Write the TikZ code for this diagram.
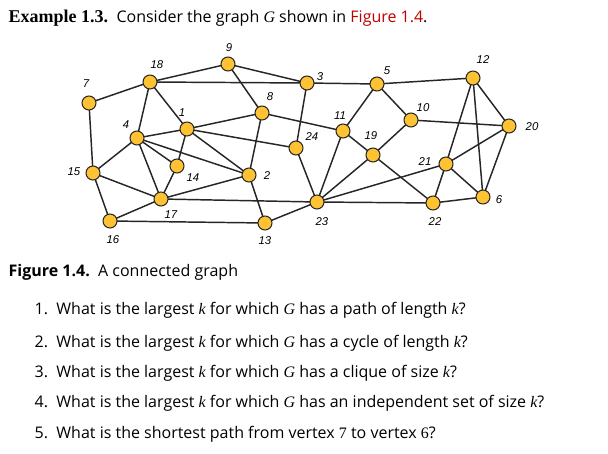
\documentclass[tikz,border=0pt]{standalone}
\usepackage{fontspec}
\setmainfont{Open Sans}
\newfontfamily\lab{Liberation Sans}
\newfontfamily\ser{Liberation Serif}
\begin{document}
\begin{tikzpicture}[x=0.75pt,y=-0.75pt,
  v/.style={circle,draw=black!85,line width=0.8pt,fill=orange!60!yellow!80,inner sep=0pt,minimum size=10.5pt},
  e/.style={line width=1.1pt,black!85},
  lb/.style={font=\lab\itshape\fontsize{8.5}{9}\selectfont},
  tx/.style={anchor=west,font=\fontsize{12}{14}\selectfont}]
\useasboundingbox (0,0) rectangle (608,454);
\foreach \n/\x/\y in {18/150/82,9/228/64,3/307/83,7/89/103,8/262/113,1/187/129,4/137/138,24/296/148,14/177/166,15/93/173,2/249/175,17/161/199,16/110/221,13/265/223,23/317/202,5/377/84,12/473/78,11/343/131,10/411/120,20/509/126,19/373/155,21/446/164,22/433/203,6/483/197}
  \coordinate (p\n) at (\x,\y);
\foreach \a/\b in {7/18,7/15,18/9,18/3,18/4,18/1,9/3,9/8,3/5,3/24,8/1,8/2,8/11,1/4,1/24,1/14,1/2,4/15,4/14,4/17,4/2,14/17,15/17,15/16,16/17,16/13,17/2,17/23,2/13,13/23,24/23,23/11,23/19,23/21,23/22,11/5,11/19,5/12,5/10,10/19,10/20,19/22,12/20,12/21,12/6,20/21,20/6,21/22,21/6,22/6}
  \draw[e] (p\a) -- (p\b);
\foreach \n in {18,9,3,7,8,1,4,24,14,15,2,17,16,13,23,5,12,11,10,20,19,21,22,6}
  \node[v] (n\n) at (p\n) {};
\foreach \n/\x/\y in {18/157/65,9/229/48,3/320/77,7/86/84,8/270/97,1/182/113,4/126/125,24/312/137,14/193/178,15/74/172,2/267/176,17/171/215,16/113/240,13/265/241,23/322/222,5/387/71,12/483/60,11/340/116,10/423/108,20/532/127,19/371/136,21/425/162,22/435/222,6/499/200}
  \node[lb] (l\n) at (\x,\y) {\n};
\node[tx] (title) at (4,18) {{\ser\bfseries\fontsize{13.5}{15}\selectfont Example 1.3.}\ \ Consider the graph {\ser\itshape G} shown in \textcolor{red!75!black}{Figure 1.4}.};
\node[tx] (cap) at (4,272) {{\bfseries Figure 1.4.}\ \ A connected graph};
\node[tx] (q1) at (30,310) {1.\ \ What is the largest {\ser\itshape k} for which {\ser\itshape G} has a path of length {\ser\itshape k}?};
\node[tx] (q2) at (30,343) {2.\ \ What is the largest {\ser\itshape k} for which {\ser\itshape G} has a cycle of length {\ser\itshape k}?};
\node[tx] (q3) at (30,373) {3.\ \ What is the largest {\ser\itshape k} for which {\ser\itshape G} has a clique of size {\ser\itshape k}?};
\node[tx] (q4) at (30,403) {4.\ \ What is the largest {\ser\itshape k} for which {\ser\itshape G} has an independent set of size {\ser\itshape k}?};
\node[tx] (q5) at (30,434) {5.\ \ What is the shortest path from vertex {\ser 7} to vertex {\ser 6}?};
\end{tikzpicture}
\end{document}
